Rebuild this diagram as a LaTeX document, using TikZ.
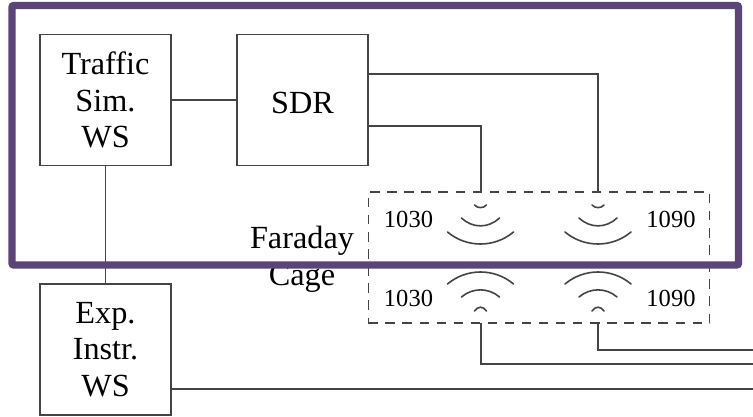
\documentclass[tikz,border=0pt]{standalone}
\usepackage{fontspec}
\setmainfont{Liberation Serif}
\definecolor{framepurple}{HTML}{5A4478}
\definecolor{wiregray}{HTML}{444444}
\tikzset{
    wsbox/.style={draw=wiregray, line width=1.2pt, minimum width=98pt, minimum height=98pt,
        inner sep=0pt, align=center, font=\fontsize{24.2}{27.5}\selectfont,
        execute at begin node={\rule{0pt}{21pt}}},
    wire/.style={draw=wiregray, line width=1.2pt},
    freq/.style={inner sep=0pt, font=\fontsize{18.4}{21}\selectfont},
    antarc/.style={draw=wiregray, line width=1.2pt, line cap=round}
}
\begin{document}
\begin{tikzpicture}[x=0.75pt, y=-0.75pt]
    \useasboundingbox (0,0) rectangle (753,417);

    % Workstations and radio
    \node[wsbox] (traffic) at (105.5,100) {Traffic\\Sim.\\WS};
    \node[wsbox] (sdr) at (302.5,100) {SDR};
    \node[wsbox] (expinstr) at (105.5,349.5) {Exp.\\Instr.\\WS};

    % Faraday cage
    \node[draw=wiregray, dashed, line width=1.1pt, dash pattern=on 7pt off 5.8pt, minimum width=256pt,
        minimum height=98pt, inner sep=0pt] (cage) at (539,257.5) {};
    \node[inner sep=0pt, align=center, font=\fontsize{24.2}{27.5}\selectfont] (cagelabel) at (302,259) {Faraday\\Cage};

    % Frequency labels
    \node[freq] (txlow) at (408.5,219) {1030};
    \node[freq] (txhigh) at (671,219) {1090};
    \node[freq] (rxlow) at (408.5,298) {1030};
    \node[freq] (rxhigh) at (671,298) {1090};

    % Antennas
    \foreach \ax in {480.5,598} {
        \draw[antarc] (\ax-6,205) .. controls (\ax-3,208.5) and (\ax+3,208.5) .. (\ax+6,205);
        \draw[antarc] (\ax-19,218) .. controls (\ax-8,228.5) and (\ax+8,228.5) .. (\ax+19,218);
        \draw[antarc] (\ax-33,232) .. controls (\ax-14,248) and (\ax+14,248) .. (\ax+33,232);
        \draw[antarc] (\ax-6,311) .. controls (\ax-3,306) and (\ax+3,306) .. (\ax+6,311);
        \draw[antarc] (\ax-19,297) .. controls (\ax-8,287.5) and (\ax+8,287.5) .. (\ax+19,297);
        \draw[antarc] (\ax-33,284) .. controls (\ax-14,268) and (\ax+14,268) .. (\ax+33,284);
    }

    % Connector ends
    \coordinate (sdrhigh) at (368,74);
    \coordinate (sdrlow) at (368,126);
    \coordinate (cagetxlow) at (481,192);
    \coordinate (cagetxhigh) at (598,192);
    \coordinate (cagerxlow) at (481,323);
    \coordinate (cagerxhigh) at (598,323);
    \coordinate (outlow) at (753,364);
    \coordinate (outhigh) at (753,350);
    \coordinate (outexp) at (753,389);
    \coordinate (expright) at (171,389);

    % Connectors
    \draw[wire] (traffic) -- (sdr);
    \draw[wire] (traffic) -- (expinstr);
    \draw[wire] (sdrhigh) -| (cagetxhigh);
    \draw[wire] (sdrlow) -| (cagetxlow);
    \draw[wire] (cagerxlow) |- (outlow);
    \draw[wire] (cagerxhigh) |- (outhigh);
    \draw[wire] (expright) -- (outexp);

    % Highlight frame
    \draw[framepurple, line width=5.6pt, rounded corners=1.5pt] (12,5.5) rectangle (738.5,265);
\end{tikzpicture}
\end{document}
